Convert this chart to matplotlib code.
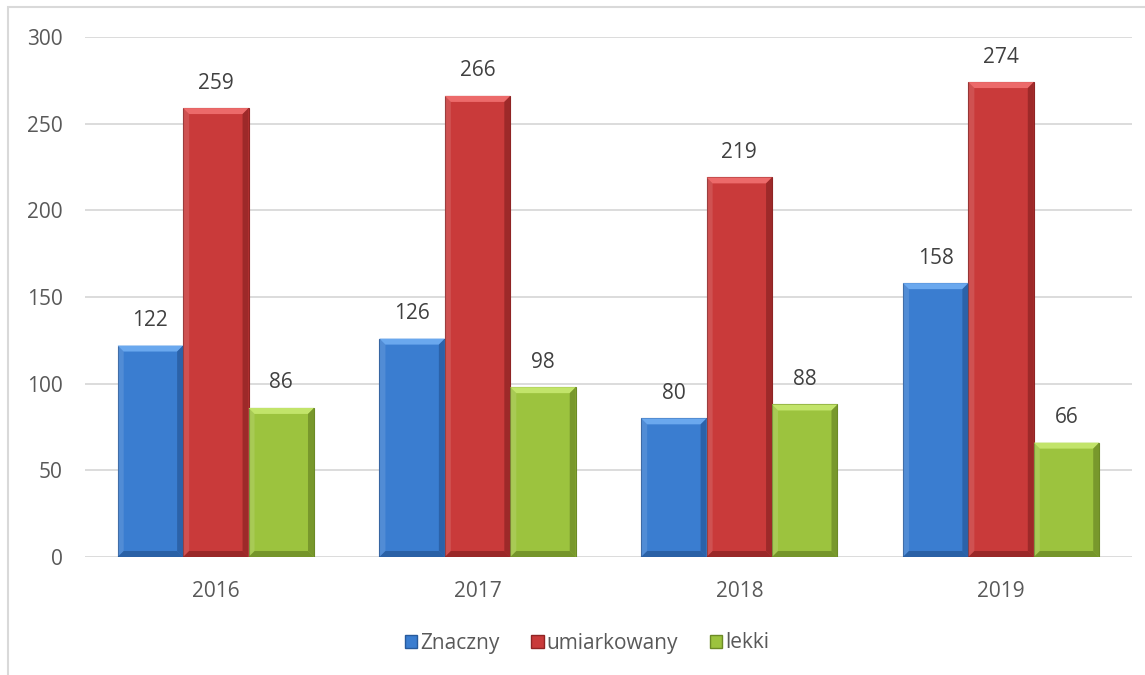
import matplotlib
matplotlib.use("Agg")
import matplotlib.pyplot as plt
import matplotlib.patches as mpatches
import numpy as np

# data
years = ["2016", "2017", "2018", "2019"]
znaczny = [122, 126, 80, 158]
umiarkowany = [259, 266, 219, 274]
lekki = [86, 98, 88, 66]
series_names = ["Znaczny", "umiarkowany", "lekki"]

# body / light bevel / dark bevel
palette = {
    "Znaczny": ("#3a7dd0", "#6aa8ee", "#275a9c"),
    "umiarkowany": ("#c93a3a", "#ec6a6a", "#8f2424"),
    "lekki": ("#9cc33e", "#c2e46a", "#6c8a26"),
}

plt.rcParams["font.family"] = ["Open Sans", "DejaVu Sans"]
text_col = "#595959"

fig = plt.figure(figsize=(11.45, 6.75), dpi=100)
ax = fig.add_axes([0.0742, 0.1748, 0.9144, 0.7704])

# chart border (left/top visible in the original)
fig.patches.append(mpatches.Rectangle((8 / 1145, -0.1), 1.2, 1 - 7 / 675 + 0.1,
                                      transform=fig.transFigure, fill=False,
                                      edgecolor="#d9d9d9", linewidth=1.5))

x = np.arange(len(years))
width = 0.25
ax.set_xlim(-0.5, len(years) - 0.5)
ax.set_ylim(0, 300)

# pixel -> data conversion for the bevel size
px_x = 1047 / len(years)
px_y = 520 / 300
bev = 6

for i, (name, vals) in enumerate(zip(series_names, [znaczny, umiarkowany, lekki])):
    body, light, dark = palette[name]
    bars = ax.bar(x + (i - 1) * width, vals, width, color=body, zorder=3,
                  edgecolor=dark, linewidth=0.8)
    for b, v in zip(bars, vals):
        x0, x1 = b.get_x(), b.get_x() + b.get_width()
        y1 = b.get_height()
        dx, dy = bev / px_x, bev / px_y
        # top bevel
        ax.add_patch(mpatches.Polygon([(x0, y1), (x1, y1), (x1 - dx, y1 - dy), (x0 + dx, y1 - dy)],
                                      closed=True, facecolor=light, edgecolor="none", zorder=4))
        # left bevel
        ax.add_patch(mpatches.Polygon([(x0, y1), (x0 + dx, y1 - dy), (x0 + dx, dy), (x0, 0)],
                                      closed=True, facecolor="white", alpha=0.12, edgecolor="none", zorder=4))
        # right bevel
        ax.add_patch(mpatches.Polygon([(x1, y1), (x1 - dx, y1 - dy), (x1 - dx, dy), (x1, 0)],
                                      closed=True, facecolor=dark, alpha=0.75, edgecolor="none", zorder=4))
        # bottom bevel
        ax.add_patch(mpatches.Polygon([(x0, 0), (x1, 0), (x1 - dx, dy), (x0 + dx, dy)],
                                      closed=True, facecolor=dark, alpha=0.8, edgecolor="none", zorder=4))
        ax.annotate(str(v), (b.get_x() + b.get_width() / 2, y1), xytext=(0, 18),
                    textcoords="offset points", ha="center", va="center",
                    fontsize=15, color="#404040", zorder=5)

ax.set_yticks(np.arange(0, 301, 50))
ax.set_xticks(x)
ax.set_xticklabels(years)
ax.yaxis.grid(True, color="#d9d9d9", linewidth=1.3, zorder=0)
ax.set_axisbelow(True)
for s in ax.spines.values():
    s.set_visible(False)
ax.tick_params(axis="both", length=0, labelsize=15, labelcolor=text_col)
ax.tick_params(axis="y", pad=16)
ax.tick_params(axis="x", pad=17)

handles = [mpatches.Patch(facecolor=palette[n][0], edgecolor=palette[n][2], label=n)
           for n in series_names]
fig.legend(handles=handles, loc="center", bbox_to_anchor=(587 / 1145, 1 - 643 / 675),
           ncol=3, frameon=False, fontsize=15, handlelength=0.6, handleheight=0.6,
           handletextpad=0.15, columnspacing=1.5, labelcolor=text_col)

fig.savefig("out.png", dpi=100, facecolor="white")
